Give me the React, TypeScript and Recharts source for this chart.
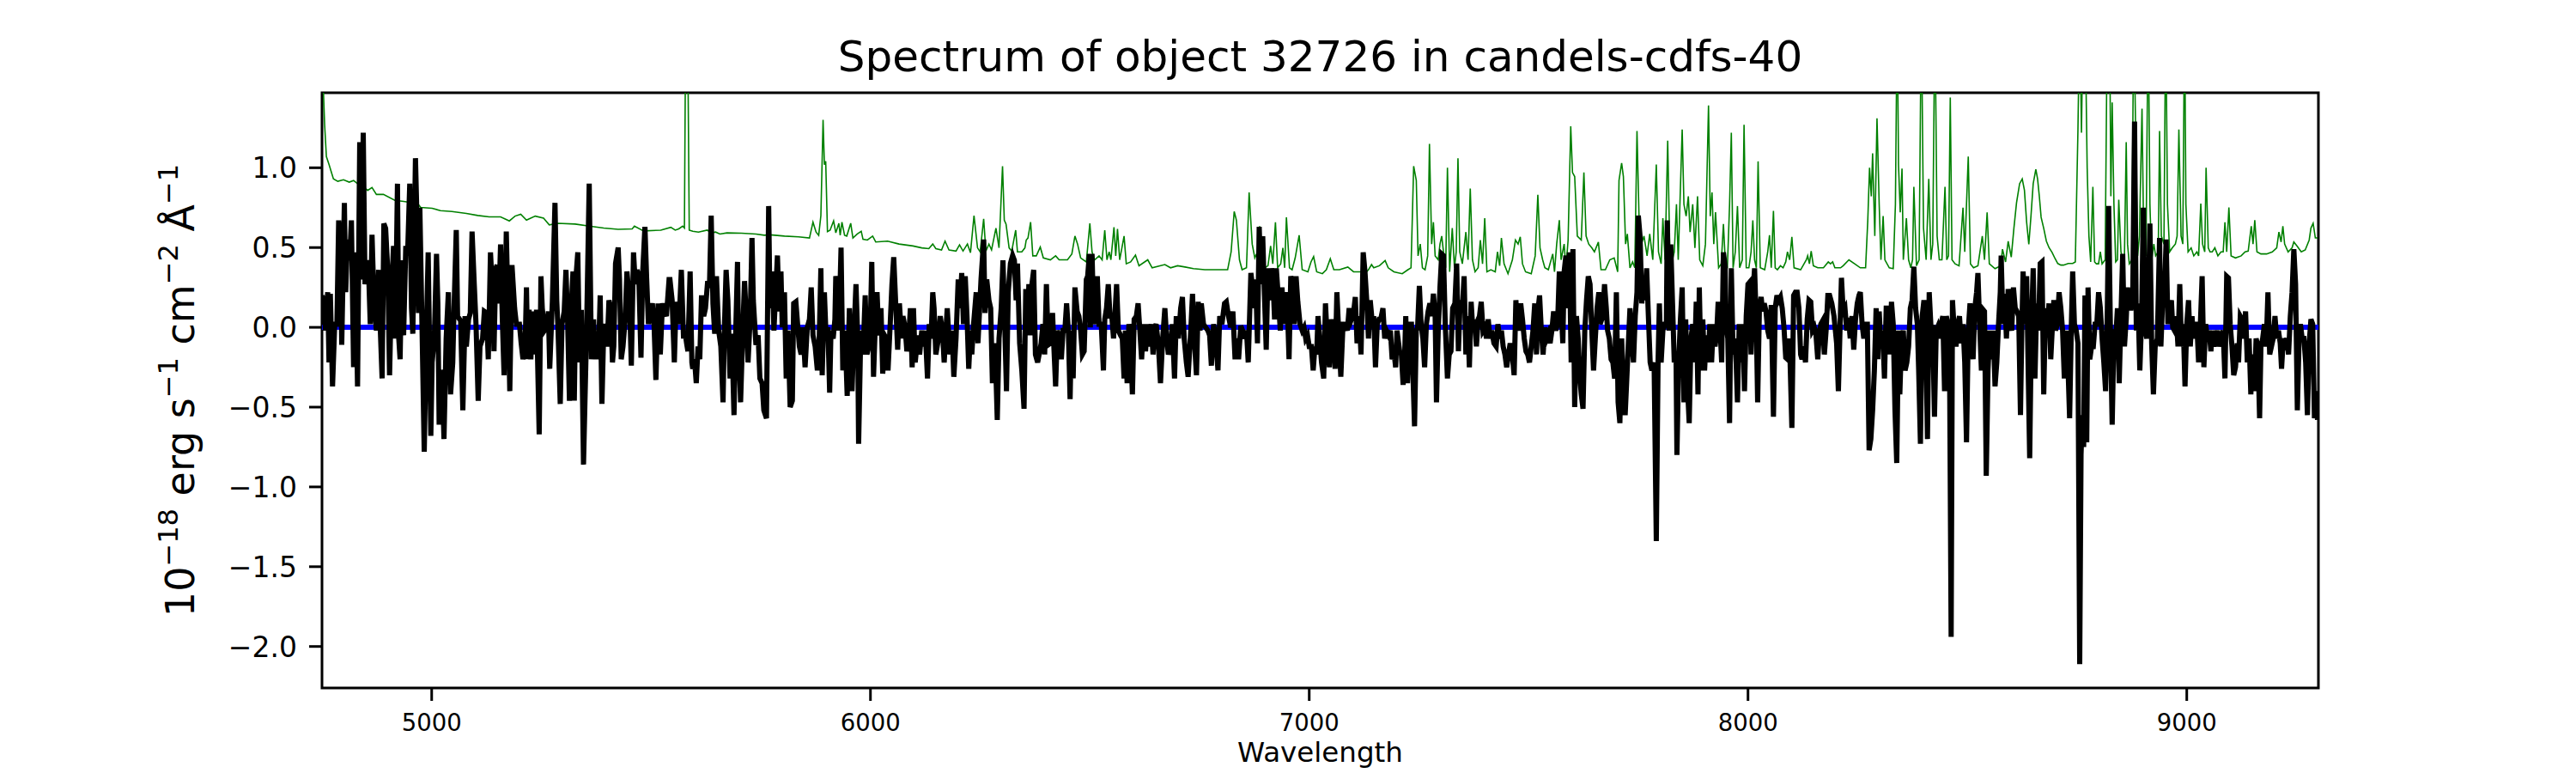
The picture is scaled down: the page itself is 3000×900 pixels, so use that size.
import React from 'react';
import { LineChart, Line, XAxis, YAxis, ReferenceArea } from 'recharts';

// Observed flux (black), wavelength in Angstrom, flux in 1e-18 erg/s/cm2/A
const FLUX: [number, number][] = [
[4750,0.20],[4753,0.17],[4758,-0.02],[4763,0.22],[4766,-0.22],[4769,0.21],[4774,-0.37],[4779,0.02],[4784,0.02],[4788,0.67],[4792,0.52],[4795,-0.11],[4801,0.78],[4804,0.22],[4808,0.55],[4813,0.42],[4817,0.67],[4822,-0.25],[4826,0.47],[4831,-0.37],[4836,1.16],[4840,0.30],[4844,1.22],[4848,0.27],[4852,0.42],[4856,0.37],[4860,0.02],[4864,0.58],[4869,0.12],[4874,-0.02],[4879,0.36],[4883,-0.02],[4887,-0.32],[4891,0.65],[4895,0.62],[4900,0.35],[4904,-0.30],[4908,0.20],[4913,0.51],[4917,-0.07],[4922,0.90],[4925,-0.07],[4928,-0.20],[4932,0.42],[4936,-0.05],[4941,0.51],[4945,0.45],[4950,0.90],[4954,0.12],[4957,-0.04],[4963,1.06],[4967,0.62],[4970,0.09],[4973,0.75],[4978,0.00],[4983,-0.78],[4988,-0.02],[4992,0.47],[4998,-0.68],[5001,-0.22],[5006,-0.07],[5011,0.46],[5014,0.15],[5017,-0.61],[5020,-0.27],[5024,-0.30],[5028,-0.70],[5031,-0.32],[5033,-0.07],[5038,0.22],[5043,-0.42],[5048,-0.22],[5051,0.12],[5056,0.61],[5059,0.07],[5066,0.04],[5071,-0.52],[5076,0.07],[5079,-0.12],[5084,0.05],[5088,0.09],[5092,0.60],[5097,0.27],[5101,0.02],[5106,-0.46],[5110,-0.12],[5116,-0.07],[5120,0.10],[5125,0.09],[5129,-0.20],[5134,0.47],[5139,0.20],[5142,-0.15],[5146,0.37],[5149,0.39],[5153,0.15],[5157,0.52],[5161,0.05],[5165,-0.30],[5170,0.60],[5176,-0.12],[5178,-0.40],[5183,0.39],[5189,0.12],[5193,0.02],[5200,0.02],[5204,-0.10],[5208,-0.20],[5213,-0.12],[5216,0.25],[5219,-0.20],[5222,0.11],[5226,-0.20],[5230,0.10],[5234,-0.17],[5239,0.11],[5245,-0.67],[5249,0.32],[5252,0.12],[5257,-0.02],[5262,0.00],[5266,0.10],[5269,-0.26],[5275,0.16],[5281,0.78],[5285,0.17],[5288,-0.02],[5293,-0.48],[5297,0.02],[5302,0.10],[5306,0.36],[5310,0.02],[5314,-0.46],[5318,0.12],[5322,0.35],[5325,-0.46],[5329,0.32],[5333,0.47],[5337,-0.22],[5341,0.11],[5346,-0.86],[5353,-0.02],[5359,0.90],[5364,-0.20],[5369,0.05],[5372,-0.20],[5376,-0.10],[5380,-0.20],[5384,0.20],[5388,-0.48],[5392,-0.02],[5396,0.02],[5400,-0.12],[5404,0.17],[5408,0.12],[5412,-0.22],[5415,-0.12],[5419,0.40],[5425,0.50],[5428,0.30],[5432,-0.20],[5436,-0.12],[5441,0.05],[5445,0.35],[5451,0.16],[5455,-0.24],[5460,0.47],[5464,0.27],[5468,0.36],[5472,0.32],[5477,-0.19],[5481,0.35],[5486,0.63],[5490,0.30],[5494,0.02],[5498,0.10],[5503,0.15],[5507,0.00],[5511,-0.33],[5516,0.15],[5521,-0.17],[5526,0.15],[5530,0.10],[5535,0.07],[5541,0.30],
[5543,0.30],[5548,0.17],[5553,-0.22],[5557,0.16],[5561,0.02],[5566,0.17],[5569,0.36],[5574,-0.07],[5577,-0.02],[5581,-0.10],[5584,-0.15],[5589,0.35],[5593,-0.22],[5595,-0.26],[5599,-0.20],[5603,-0.35],[5607,-0.12],[5611,-0.20],[5615,0.20],[5620,0.07],[5624,0.12],[5629,0.29],[5633,0.25],[5637,0.70],[5641,0.15],[5645,-0.04],[5649,0.32],[5654,-0.02],[5659,-0.12],[5664,-0.47],[5667,-0.02],[5671,0.36],[5675,0.17],[5680,-0.32],[5684,-0.04],[5689,-0.55],[5693,-0.02],[5697,0.41],[5699,-0.02],[5704,-0.47],[5709,-0.02],[5713,0.29],[5716,0.12],[5721,-0.22],[5726,0.07],[5730,0.56],[5733,0.17],[5739,-0.11],[5744,-0.05],[5748,-0.32],[5753,-0.35],[5757,-0.52],[5763,-0.57],[5768,0.76],[5771,0.12],[5776,0.35],[5780,-0.02],[5783,0.16],[5788,0.45],[5792,0.10],[5796,0.35],[5799,0.00],[5804,0.22],[5808,-0.32],[5812,-0.02],[5817,-0.50],[5822,-0.46],[5825,0.15],[5830,0.16],[5834,0.02],[5838,-0.12],[5842,-0.17],[5846,0.00],[5851,-0.25],[5856,0.00],[5861,0.05],[5865,0.25],[5869,-0.05],[5874,-0.12],[5879,-0.27],[5883,-0.10],[5887,0.37],[5890,-0.30],[5895,0.22],[5899,-0.07],[5903,0.00],[5907,-0.41],[5910,-0.02],[5915,-0.07],[5919,0.05],[5921,0.32],[5925,0.27],[5928,-0.02],[5933,0.50],[5937,-0.27],[5942,-0.02],[5947,-0.43],[5952,0.12],[5958,-0.40],[5962,-0.07],[5967,0.27],[5971,-0.07],[5973,-0.73],[5978,-0.02],[5983,-0.17],[5988,0.20],[5992,-0.17],[5996,-0.12],[5999,-0.07],[6003,0.41],[6007,-0.31],[6011,0.02],[6015,0.22],[6019,-0.05],[6024,0.12],[6028,-0.29],[6032,-0.05],[6036,-0.07],[6040,-0.27],[6045,0.02],[6049,0.27],[6053,0.44],[6058,0.12],[6062,-0.14],[6066,0.15],[6071,-0.07],[6074,0.07],[6079,0.00],[6083,-0.15],[6087,-0.07],[6091,0.12],[6095,-0.25],[6098,0.12],[6102,-0.22],[6108,-0.05],[6112,-0.17],[6117,-0.02],[6121,-0.12],[6125,-0.02],[6130,-0.32],[6134,0.02],[6138,-0.07],[6142,0.22],[6145,0.12],[6149,-0.17],[6155,-0.07],[6159,0.07],[6164,-0.02],[6168,-0.22],[6172,-0.02],[6175,0.12],[6181,-0.17],[6186,-0.02],[6190,-0.31],[6195,-0.07],[6200,0.30],[6204,0.12],[6208,0.34],[6212,0.02],[6216,0.32],[6220,0.07],[6224,-0.26],[6228,-0.02],[6231,-0.17],[6235,0.02],[6241,0.22],[6245,-0.10],[6248,0.07],[6252,0.30],[6258,0.55],[6261,0.09],[6265,0.30],[6270,0.17],[6274,0.12],[6278,-0.35],[6284,-0.10],[6289,-0.58],[6293,-0.07],[6298,0.12],[6302,0.42],[6306,0.02],[6310,-0.40],[6314,0.22],[6319,0.40],[6324,0.45],[6328,0.42],[6332,0.17],[6335,0.40],[6340,-0.10],
[6345,-0.27],[6350,-0.51],[6354,0.24],[6358,-0.05],[6361,0.27],[6365,-0.05],[6368,0.27],[6372,0.36],[6376,-0.17],[6381,-0.22],[6385,-0.16],[6389,-0.10],[6393,0.02],[6397,-0.17],[6401,0.27],[6405,-0.11],[6410,-0.10],[6415,0.09],[6418,-0.12],[6422,-0.37],[6426,-0.02],[6431,-0.07],[6435,-0.20],[6439,-0.02],[6443,-0.02],[6447,0.15],[6451,-0.02],[6455,-0.45],[6458,-0.02],[6462,-0.32],[6466,0.25],[6471,0.10],[6475,0.07],[6479,-0.02],[6483,-0.17],[6487,-0.15],[6492,0.30],[6495,0.32],[6499,0.46],[6501,0.00],[6505,0.46],[6509,0.02],[6513,0.16],[6517,0.32],[6521,0.02],[6526,0.02],[6531,-0.27],[6534,0.05],[6538,0.12],[6542,0.27],[6546,0.07],[6550,0.07],[6554,-0.07],[6558,0.12],[6561,0.27],[6565,-0.02],[6570,-0.05],[6574,-0.07],[6578,-0.32],[6581,-0.02],[6585,-0.35],[6589,0.02],[6593,-0.10],[6597,-0.42],[6601,0.05],[6606,0.07],[6610,0.15],[6614,-0.02],[6618,-0.20],[6622,0.02],[6627,-0.15],[6631,0.02],[6635,-0.12],[6640,0.02],[6644,-0.17],[6648,0.00],[6651,0.02],[6656,-0.10],[6661,-0.35],[6666,-0.07],[6671,0.12],[6675,-0.07],[6679,-0.17],[6684,-0.12],[6688,0.02],[6693,-0.32],[6697,0.07],[6702,-0.07],[6707,0.12],[6711,0.19],[6715,-0.07],[6720,-0.22],[6724,-0.31],[6730,-0.02],[6734,0.21],[6737,-0.02],[6743,-0.30],[6747,0.16],[6751,-0.02],[6754,0.15],[6759,0.02],[6764,0.00],[6769,-0.02],[6773,-0.05],[6777,-0.24],[6782,0.02],[6787,-0.07],[6792,-0.27],[6796,0.07],[6801,0.02],[6807,0.15],[6811,0.16],[6816,0.07],[6821,0.00],[6826,0.10],[6831,-0.20],[6835,-0.07],[6839,-0.20],[6844,0.01],[6848,-0.02],[6852,-0.07],[6857,-0.02],[6861,-0.22],[6867,0.34],[6871,0.25],[6874,0.12],[6878,0.30],[6882,-0.10],[6886,0.63],[6890,0.27],[6894,0.57],[6898,0.20],[6902,-0.14],[6906,0.37],[6910,0.17],[6914,0.37],[6917,0.32],[6921,0.05],[6925,0.37],[6930,0.17],[6934,-0.02],[6938,0.25],[6942,0.02],[6946,0.22],[6950,0.15],[6954,-0.20],[6958,0.32],[6962,0.27],[6966,0.02],[6970,0.32],[6974,0.16],[6979,0.02],[6984,-0.02],[6988,0.00],[6992,-0.07],[6996,-0.05],[7000,-0.12],[7005,-0.12],[7009,-0.27],[7013,-0.12],[7017,-0.17],[7020,0.07],[7024,-0.07],[7028,-0.22],[7033,-0.32],[7037,0.15],[7041,-0.07],[7046,-0.25],[7050,0.05],[7054,-0.02],[7059,-0.26],[7063,0.22],[7067,-0.02],[7072,-0.31],[7077,0.02],[7082,0.02],[7087,-0.02],[7091,0.12],[7096,0.05],[7101,0.09],[7105,0.19],[7109,-0.10],[7114,0.07],[7118,-0.17],[7123,0.47],[7127,0.35],[7131,0.17],[7135,-0.07],[7139,0.17],[7144,0.02],
[7147,0.07],[7151,-0.25],[7155,0.02],[7159,0.05],[7163,0.05],[7168,0.12],[7172,-0.07],[7176,-0.02],[7181,-0.05],[7185,-0.02],[7189,-0.20],[7193,-0.15],[7197,-0.25],[7200,-0.02],[7206,-0.15],[7210,-0.17],[7214,-0.36],[7217,-0.22],[7220,0.07],[7224,-0.35],[7228,0.02],[7233,0.02],[7240,-0.62],[7244,-0.02],[7247,0.00],[7251,0.26],[7255,0.02],[7259,-0.07],[7263,-0.25],[7267,0.02],[7271,0.10],[7275,0.15],[7279,0.07],[7283,0.21],[7287,0.07],[7290,-0.47],[7294,-0.02],[7298,0.25],[7302,0.46],[7306,0.45],[7310,0.02],[7315,-0.32],[7319,-0.17],[7323,-0.15],[7327,0.12],[7332,0.15],[7336,0.40],[7340,-0.15],[7344,0.17],[7349,0.12],[7353,0.32],[7357,-0.17],[7361,0.07],[7365,-0.25],[7369,0.16],[7373,-0.02],[7377,0.05],[7381,-0.12],[7385,0.05],[7388,0.07],[7392,0.16],[7396,-0.02],[7400,0.00],[7404,-0.07],[7408,0.05],[7412,-0.07],[7416,-0.02],[7421,-0.10],[7426,-0.12],[7430,0.02],[7434,-0.07],[7438,-0.02],[7442,-0.12],[7446,-0.17],[7450,-0.25],[7454,-0.17],[7458,-0.10],[7462,-0.15],[7467,-0.30],[7471,0.17],[7474,0.02],[7478,-0.02],[7482,0.15],[7486,0.05],[7490,-0.07],[7494,-0.15],[7498,-0.17],[7502,-0.22],[7506,-0.12],[7510,-0.02],[7514,0.15],[7518,-0.17],[7521,0.10],[7525,0.20],[7529,-0.02],[7533,-0.17],[7537,0.00],[7541,-0.07],[7545,-0.04],[7549,-0.10],[7553,-0.02],[7557,0.10],[7562,-0.02],[7566,0.02],[7570,0.35],[7574,0.12],[7578,-0.10],[7581,0.35],[7585,0.45],[7589,0.12],[7593,0.47],[7597,-0.22],[7601,0.49],[7605,-0.50],[7609,0.07],[7613,-0.07],[7617,-0.32],[7620,-0.42],[7624,-0.51],[7628,-0.02],[7632,0.17],[7636,0.32],[7640,0.27],[7644,-0.02],[7648,-0.27],[7652,-0.07],[7656,0.12],[7660,0.22],[7663,0.02],[7669,0.07],[7673,0.27],[7677,0.12],[7680,-0.02],[7684,-0.07],[7688,-0.20],[7692,-0.22],[7696,-0.32],[7700,0.22],[7704,-0.47],[7708,-0.60],[7712,-0.07],[7716,-0.37],[7720,-0.55],[7723,-0.37],[7727,-0.12],[7731,0.12],[7735,-0.07],[7739,-0.22],[7743,0.07],[7747,0.22],[7750,0.70],[7754,0.57],[7758,0.15],[7761,0.32],[7765,0.17],[7769,0.37],[7773,0.07],[7777,-0.22],[7781,-0.27],[7786,-0.22],[7791,-1.34],[7795,-0.22],[7798,0.15],[7802,-0.22],[7806,-0.02],[7810,0.02],[7814,0.02],[7816,0.67],[7820,-0.02],[7824,0.52],[7828,0.15],[7832,-0.22],[7836,-0.17],[7838,-0.80],[7842,-0.22],[7846,0.05],[7850,0.25],[7854,-0.47],[7858,0.05],[7862,-0.37],[7866,-0.60],[7870,-0.07],[7874,0.02],[7878,-0.22],[7882,0.16],[7886,-0.42],[7889,0.25],[7893,-0.27],[7897,0.05],[7901,-0.27],[7905,-0.05],[7909,-0.22],[7913,0.02],[7917,-0.22],[7921,0.02],[7925,-0.12],[7929,-0.02],[7932,0.16],[7936,0.02],[7940,-0.22],[7944,0.47],[7948,0.38],
[7950,0.02],[7954,-0.07],[7958,-0.60],[7962,0.37],[7966,-0.17],[7970,-0.07],[7973,-0.22],[7976,-0.47],[7980,0.02],[7984,-0.22],[7988,0.02],[7992,-0.40],[7996,0.07],[8000,0.27],[8003,0.28],[8007,-0.17],[8011,0.20],[8015,0.37],[8019,0.02],[8022,-0.47],[8026,0.12],[8030,0.19],[8033,0.10],[8037,0.15],[8041,0.10],[8045,-0.02],[8049,-0.07],[8053,0.14],[8058,-0.56],[8062,0.12],[8066,0.20],[8070,0.17],[8074,0.19],[8078,0.12],[8082,0.00],[8086,-0.19],[8090,-0.20],[8093,-0.07],[8096,-0.22],[8100,-0.63],[8104,0.20],[8108,0.22],[8112,0.22],[8116,0.12],[8120,-0.17],[8123,-0.20],[8127,-0.12],[8131,-0.22],[8135,0.05],[8139,0.17],[8143,0.16],[8147,-0.02],[8151,0.00],[8155,-0.05],[8159,-0.20],[8163,-0.02],[8166,0.02],[8170,0.04],[8174,-0.17],[8178,-0.02],[8182,0.20],[8186,0.20],[8191,0.15],[8196,0.07],[8202,-0.10],[8206,-0.40],[8210,0.02],[8213,0.31],[8217,0.10],[8221,0.12],[8225,-0.02],[8229,0.06],[8233,-0.07],[8237,0.07],[8241,-0.14],[8245,0.05],[8249,0.15],[8253,0.20],[8256,0.22],[8260,0.02],[8264,-0.07],[8268,0.02],[8272,0.02],[8276,-0.77],[8280,-0.70],[8284,-0.52],[8288,-0.27],[8292,0.12],[8296,-0.20],[8299,0.10],[8303,-0.12],[8307,-0.02],[8311,-0.32],[8315,0.12],[8319,0.12],[8323,-0.17],[8327,0.16],[8331,0.02],[8335,-0.52],[8339,-0.85],[8343,-0.02],[8346,-0.42],[8350,-0.07],[8354,-0.02],[8358,-0.27],[8362,-0.22],[8366,-0.12],[8370,0.12],[8374,0.17],[8378,0.38],[8382,0.12],[8386,0.02],[8389,-0.27],[8393,-0.73],[8397,0.07],[8401,0.17],[8405,-0.02],[8409,-0.70],[8413,0.22],[8417,0.00],[8421,0.00],[8425,-0.56],[8429,-0.02],[8432,0.00],[8436,-0.07],[8440,0.02],[8444,0.07],[8448,-0.40],[8452,0.07],[8456,0.02],[8459,-0.02],[8463,-1.94],[8466,0.17],[8470,-0.02],[8474,-0.12],[8478,0.02],[8482,0.07],[8486,-0.10],[8490,0.02],[8494,-0.22],[8498,-0.72],[8502,-0.02],[8506,0.15],[8509,0.02],[8513,-0.20],[8517,0.12],[8521,0.22],[8524,0.34],[8528,0.02],[8532,-0.27],[8536,0.11],[8539,0.10],[8543,-0.93],[8547,-0.27],[8551,-0.02],[8555,-0.20],[8559,-0.02],[8563,-0.37],[8567,-0.22],[8571,0.02],[8575,0.22],[8577,0.45],[8581,0.02],[8585,0.21],[8589,-0.07],[8593,0.24],[8597,0.02],[8601,-0.02],[8605,0.25],[8609,0.12],[8613,0.10],[8617,0.07],[8621,-0.55],[8624,-0.02],[8627,0.35],[8631,0.02],[8635,0.32],[8638,-0.17],[8642,-0.82],[8646,0.02],[8650,0.37],[8654,-0.32],[8658,0.15],[8662,-0.02],[8666,0.40],[8670,0.41],[8674,-0.42],[8678,0.12],[8682,-0.02],[8686,0.15],[8690,-0.20],[8694,0.02],[8697,0.17],[8701,-0.02],[8705,0.02],[8709,0.22],[8713,0.12],[8717,-0.02],[8721,-0.32],[8725,-0.02],[8729,-0.22],[8733,-0.57],[8737,0.02],[8740,0.35],[8744,0.02],[8748,-0.02],[8752,-0.10],[8756,-2.11],
[8759,-0.80],[8762,-0.55],[8765,-0.75],[8768,0.20],[8772,-0.72],[8775,0.25],[8779,-0.20],[8783,-0.12],[8787,-0.12],[8791,0.02],[8795,0.02],[8799,0.22],[8803,0.12],[8807,-0.07],[8811,-0.22],[8815,-0.40],[8819,0.12],[8822,0.76],[8826,-0.02],[8830,-0.61],[8834,-0.05],[8838,-0.07],[8842,0.12],[8846,-0.35],[8850,0.07],[8854,0.46],[8858,-0.12],[8862,0.05],[8865,0.25],[8869,0.12],[8873,0.12],[8877,0.22],[8881,1.29],[8885,-0.02],[8889,0.15],[8893,-0.27],[8897,0.05],[8901,0.75],[8905,-0.02],[8909,-0.07],[8912,0.12],[8916,0.65],[8920,-0.10],[8924,-0.42],[8928,-0.12],[8933,-0.07],[8938,0.56],[8941,-0.12],[8945,0.17],[8949,0.20],[8953,0.55],[8957,0.02],[8961,0.12],[8965,0.17],[8968,0.00],[8972,-0.02],[8976,0.07],[8980,-0.12],[8984,0.27],[8988,-0.12],[8992,0.02],[8996,-0.37],[9000,0.02],[9004,0.17],[9008,-0.12],[9012,0.07],[9015,-0.07],[9019,0.02],[9023,0.02],[9027,-0.22],[9031,0.02],[9035,0.32],[9039,-0.25],[9043,0.02],[9047,-0.07],[9051,-0.02],[9055,-0.15],[9058,-0.02],[9062,-0.12],[9066,-0.07],[9070,-0.02],[9074,-0.12],[9078,-0.07],[9083,-0.02],[9087,-0.32],[9091,0.32],[9095,0.31],[9099,0.02],[9103,-0.12],[9107,-0.30],[9111,-0.25],[9115,-0.10],[9118,-0.22],[9122,0.07],[9126,0.05],[9130,-0.07],[9134,0.10],[9138,-0.22],[9142,-0.07],[9146,-0.42],[9150,-0.17],[9154,-0.40],[9158,-0.07],[9162,-0.12],[9166,-0.57],[9169,-0.12],[9173,-0.07],[9177,0.02],[9181,-0.12],[9185,0.22],[9189,-0.17],[9193,-0.12],[9197,-0.07],[9201,0.07],[9205,-0.07],[9209,-0.02],[9213,-0.10],[9216,-0.26],[9220,-0.07],[9224,-0.10],[9228,-0.07],[9232,-0.17],[9236,0.07],[9240,0.22],[9244,0.49],[9248,0.27],[9252,-0.52],[9256,-0.07],[9259,0.02],[9263,-0.07],[9267,-0.07],[9271,-0.22],[9275,-0.55],[9279,-0.10],[9283,0.05],[9287,0.02],[9291,-0.57],[9294,-0.40],[9298,-0.58]
];

// Noise / sky spectrum (green)
const NOISE: [number, number][] = [
[4750,2.0],[4753,1.5],[4756,1.27],[4760,1.07],[4766,1.02],[4776,0.93],[4786,0.915],[4799,0.925],[4812,0.91],[4822,0.92],[4831,0.90],[4844,0.883],[4854,0.858],[4864,0.876],[4874,0.833],[4890,0.833],[4916,0.796],[4936,0.789],[4968,0.776],[4975,0.751],[5001,0.746],[5020,0.731],[5046,0.726],[5079,0.714],[5105,0.701],[5131,0.692],[5157,0.692],[5177,0.667],[5190,0.697],[5203,0.709],[5216,0.672],[5236,0.697],[5255,0.684],[5268,0.642],[5288,0.652],[5327,0.647],[5359,0.634],[5392,0.622],[5425,0.614],[5457,0.617],[5462,0.634],[5483,0.604],[5522,0.609],[5545,0.627],[5555,0.609],
[5563,0.617],[5572,0.634],[5576,0.622],[5579,2.0],[5583,2.0],[5587,0.609],[5595,0.602],[5608,0.597],[5628,0.609],[5638,0.592],[5647,0.597],[5657,0.585],[5673,0.592],[5706,0.590],[5739,0.585],[5758,0.577],[5771,0.580],[5804,0.572],[5836,0.567],[5861,0.560],[5869,0.659],[5876,0.597],[5882,0.577],[5887,0.70],[5892,1.30],[5895,1.02],[5898,1.04],[5902,0.60],[5908,0.609],[5916,0.667],[5921,0.592],[5928,0.652],[5931,0.577],[5935,0.659],[5941,0.577],[5946,0.572],[5955,0.652],[5960,0.560],[5970,0.585],[5979,0.602],[5983,0.552],[5993,0.547],[6005,0.572],[6012,0.535],[6039,0.540],[6065,0.522],[6097,0.510],[6117,0.498],[6133,0.493],[6142,0.522],[6149,0.493],[6162,0.485],[6170,0.540],[6179,0.485],[6195,0.478],[6203,0.517],[6211,0.478],[6221,0.522],[6228,0.468],[6236,0.70],[6244,0.498],[6250,0.473],[6258,0.68],[6263,0.478],[6270,0.522],[6276,0.485],[6286,0.622],[6293,0.498],[6301,1.01],[6305,0.672],[6309,0.647],[6316,0.498],[6322,0.478],[6331,0.609],[6335,0.473],
[6345,0.473],[6352,0.498],[6355,0.547],[6359,0.560],[6365,0.659],[6370,0.448],[6378,0.448],[6387,0.503],[6394,0.435],[6410,0.423],[6422,0.448],[6430,0.423],[6449,0.423],[6459,0.460],[6466,0.572],[6472,0.522],[6479,0.435],[6492,0.410],[6500,0.652],[6505,0.473],[6511,0.423],[6521,0.448],[6528,0.423],[6534,0.609],[6539,0.423],[6544,0.473],[6548,0.423],[6555,0.627],[6559,0.448],[6563,0.617],[6568,0.423],[6578,0.572],[6583,0.398],[6593,0.410],[6604,0.453],[6612,0.386],[6632,0.423],[6642,0.373],[6671,0.393],[6684,0.373],[6700,0.386],[6717,0.378],[6736,0.368],[6762,0.361],[6788,0.361],[6814,0.361],[6822,0.473],[6829,0.726],[6834,0.672],[6841,0.423],[6847,0.361],[6857,0.373],[6863,0.846],[6870,0.522],[6876,0.435],[6882,0.473],[6887,0.634],[6893,0.386],[6899,0.373],[6906,0.386],[6912,0.510],[6917,0.398],[6923,0.659],[6928,0.373],[6935,0.398],[6940,0.498],[6944,0.373],[6948,0.689],[6955,0.373],[6961,0.361],[6968,0.435],[6977,0.577],[6984,0.361],[6997,0.348],[7004,0.410],[7010,0.443],[7017,0.348],[7030,0.336],[7039,0.361],[7048,0.430],[7056,0.361],[7069,0.361],[7088,0.378],[7101,0.348],[7121,0.348],[7127,0.336],[7135,0.361],[7142,0.393],
[7147,0.373],[7160,0.386],[7173,0.418],[7180,0.373],[7193,0.348],[7212,0.336],[7225,0.361],[7232,0.373],[7238,1.01],[7244,0.92],[7248,0.448],[7253,0.522],[7258,0.373],[7264,0.361],[7270,0.448],[7274,1.15],[7279,0.522],[7283,0.659],[7287,0.448],[7294,0.423],[7298,0.522],[7302,0.572],[7307,0.448],[7311,0.373],[7315,1.00],[7320,0.348],[7326,0.622],[7331,0.373],[7335,0.473],[7339,1.06],[7343,0.473],[7349,0.398],[7357,0.597],[7362,0.423],[7367,0.87],[7372,0.423],[7378,0.348],[7385,0.373],[7390,0.547],[7395,0.398],[7400,0.684],[7405,0.348],[7414,0.361],[7424,0.348],[7429,0.473],[7434,0.386],[7438,0.560],[7444,0.398],[7453,0.336],[7463,0.423],[7470,0.547],[7476,0.522],[7481,0.567],[7486,0.398],[7493,0.348],[7506,0.336],[7515,0.448],[7521,0.83],[7526,0.498],[7532,0.423],[7537,0.373],[7545,0.361],[7555,0.460],[7559,0.348],[7564,0.522],[7570,0.672],[7574,0.423],[7581,0.522],[7585,0.373],[7590,0.547],[7596,1.26],[7600,0.97],[7605,0.945],[7611,0.572],[7620,0.547],[7626,0.97],[7631,0.572],[7637,0.522],[7644,0.498],[7650,0.473],[7659,0.535],[7665,0.361],[7675,0.361],[7685,0.423],[7695,0.435],[7703,0.348],[7706,0.92],[7712,1.03],[7716,0.945],[7721,0.522],[7725,0.585],[7731,0.373],[7737,0.410],[7742,0.373],[7747,1.23],[7752,0.647],[7757,0.522],[7763,0.572],[7770,0.448],[7776,0.585],[7783,0.423],[7791,1.02],[7796,0.473],[7802,0.398],[7806,0.684],[7811,0.423],[7817,1.17],[7822,0.448],[7826,0.398],[7832,0.473],[7837,0.771],[7841,0.423],[7850,1.24],[7854,0.771],[7859,0.697],[7864,0.821],[7868,0.597],[7874,0.771],[7879,0.498],[7885,0.821],[7890,0.423],[7897,0.386],[7903,0.522],[7910,1.39],[7914,0.697],[7918,0.846],[7922,0.522],[7926,0.721],[7933,0.373],[7939,0.398],[7944,0.647],[7949,0.373],
[7953,0.373],[7958,0.77],[7962,1.22],[7966,0.373],[7971,0.473],[7976,0.76],[7981,0.373],[7987,0.423],[7991,1.27],[7996,0.373],[8002,0.373],[8007,0.473],[8011,0.67],[8015,0.423],[8019,0.373],[8023,1.04],[8028,0.373],[8038,0.361],[8045,0.473],[8049,0.577],[8053,0.373],[8058,0.73],[8062,0.373],[8067,0.361],[8074,0.386],[8080,0.373],[8086,0.410],[8090,0.473],[8095,0.423],[8100,0.567],[8105,0.373],[8120,0.361],[8133,0.423],[8136,0.448],[8140,0.398],[8144,0.478],[8149,0.386],[8159,0.373],[8172,0.373],[8183,0.410],[8188,0.398],[8193,0.410],[8198,0.373],[8211,0.373],[8217,0.386],[8230,0.423],[8243,0.398],[8256,0.373],[8268,0.373],[8273,0.67],[8277,1.00],[8281,0.821],[8284,1.09],[8289,0.572],[8294,1.31],[8299,0.771],[8303,0.423],[8308,0.697],[8312,0.423],[8322,0.373],[8331,0.368],[8336,0.771],[8340,2.0],[8343,1.02],[8347,0.721],[8351,0.995],[8354,0.423],[8361,0.684],[8366,0.423],[8371,0.373],[8375,0.423],[8378,0.88],[8384,0.386],[8390,0.423],[8395,2.0],[8400,0.622],[8406,0.423],[8412,0.93],[8417,0.423],[8421,0.522],[8426,2.0],[8431,0.572],[8436,0.423],[8442,0.423],[8449,0.88],[8453,0.423],[8457,0.448],[8461,1.44],[8465,0.423],[8472,0.398],[8481,0.386],[8490,0.75],[8494,0.473],[8502,1.07],[8507,0.398],[8514,0.373],[8524,0.386],[8534,0.572],[8539,0.423],[8545,0.72],[8550,0.398],[8563,0.368],[8576,0.386],[8580,0.49],[8587,0.41],[8593,0.54],[8600,0.44],[8606,0.62],[8612,0.78],[8619,0.90],[8625,0.93],[8630,0.86],[8635,0.66],[8640,0.52],[8645,0.70],[8650,0.90],[8656,0.99],[8660,0.93],[8664,0.82],[8668,0.69],[8674,0.62],[8680,0.54],[8686,0.50],[8693,0.47],[8700,0.43],[8706,0.40],[8713,0.39],[8719,0.39],[8730,0.40],[8740,0.40],[8746,0.41],[8752,1.24],[8756,2.0],
[8760,1.22],[8764,2.0],[8768,2.0],[8773,1.0],[8777,0.572],[8781,0.410],[8786,0.88],[8790,0.410],[8794,0.398],[8799,0.398],[8803,0.473],[8807,0.398],[8814,0.423],[8819,2.0],[8824,2.0],[8827,0.821],[8830,1.41],[8834,0.771],[8838,0.410],[8842,0.423],[8845,0.80],[8850,0.473],[8854,0.423],[8858,0.448],[8862,1.16],[8865,0.522],[8869,0.398],[8875,0.423],[8879,2.0],[8884,1.14],[8888,0.448],[8892,0.572],[8898,1.37],[8902,0.522],[8907,0.448],[8912,2.0],[8916,0.771],[8920,0.423],[8925,0.522],[8929,0.448],[8935,0.473],[8938,1.23],[8942,0.572],[8948,0.522],[8952,2.0],[8956,0.771],[8961,0.473],[8967,0.498],[8974,0.522],[8978,0.572],[8982,1.24],[8987,0.572],[8991,0.522],[8995,2.0],[8998,0.771],[9003,0.473],[9010,0.498],[9016,0.448],[9023,0.473],[9027,0.448],[9032,0.776],[9036,0.522],[9041,0.473],[9044,1.00],[9049,0.498],[9053,0.473],[9058,0.473],[9064,0.498],[9071,0.448],[9078,0.473],[9083,0.473],[9087,0.659],[9091,0.473],[9096,0.751],[9101,0.448],[9111,0.435],[9124,0.448],[9133,0.473],[9140,0.478],[9147,0.634],[9151,0.522],[9155,0.672],[9160,0.473],[9169,0.460],[9182,0.460],[9195,0.473],[9205,0.498],[9210,0.597],[9215,0.535],[9219,0.634],[9223,0.522],[9231,0.473],[9240,0.498],[9244,0.535],[9251,0.510],[9261,0.473],[9270,0.485],[9279,0.547],[9283,0.622],[9288,0.652],[9293,0.560],[9298,0.560]
];

// Model (blue), flat at zero
const MODEL: [number, number][] = [[4750, 0], [9300, 0]];

const X_DOMAIN: [number, number] = [4750, 9300];
const Y_DOMAIN: [number, number] = [-2.26, 1.47];
const X_TICKS = [5000, 6000, 7000, 8000, 9000];
const Y_TICKS = [-2.0, -1.5, -1.0, -0.5, 0.0, 0.5, 1.0];

const TITLE = 'Spectrum of object 32726 in candels-cdfs-40';
const X_LABEL = 'Wavelength';

const toRows = (pairs: [number, number][]) => pairs.map(([w, f]) => ({ w, f }));
const fluxData = toRows(FLUX);
const noiseData = toRows(NOISE);
const modelData = toRows(MODEL);

const FONT = '"DejaVu Sans", sans-serif';
const fmtY = (v: number) => v.toFixed(1).replace('-', '\u2212');

const XTick = (props: any) => {
  const { x, payload } = props;
  return (
    <text x={x} y={851} textAnchor="middle" fontFamily={FONT} fontSize={27.5} fill="#000">
      {String(payload.value)}
    </text>
  );
};

const YTick = (props: any) => {
  const { y, payload } = props;
  return (
    <text x={346} y={y + 12} textAnchor="end" fontFamily={FONT} fontSize={33} fill="#000">
      {fmtY(payload.value)}
    </text>
  );
};

export default function App() {
  const supDy = -19;
  const supSize = 32;
  return (
    <div style={{ position: 'absolute', left: 0, top: 0, width: 3000, height: 900, background: '#fff' }}>
      <LineChart width={3000} height={900} margin={{ top: 108, right: 300, bottom: 0, left: 0 }}>
        <XAxis
          type="number"
          dataKey="w"
          domain={X_DOMAIN}
          allowDataOverflow
          ticks={X_TICKS}
          tickSize={15}
          tickLine={{ stroke: '#000', strokeWidth: 3 }}
          axisLine={false}
          height={99}
          tick={<XTick />}
          interval={0}
        />
        <YAxis
          type="number"
          dataKey="f"
          domain={Y_DOMAIN}
          allowDataOverflow
          ticks={Y_TICKS}
          tickSize={15}
          tickLine={{ stroke: '#000', strokeWidth: 3 }}
          axisLine={false}
          width={375}
          tick={<YTick />}
          interval={0}
        />
        <Line data={noiseData} dataKey="f" type="linear" stroke="#008000" strokeWidth={1.6} dot={false} isAnimationActive={false} />
        <Line data={modelData} dataKey="f" type="linear" stroke="#0000ff" strokeWidth={6} dot={false} isAnimationActive={false} />
        <Line data={fluxData} dataKey="f" type="linear" stroke="#000000" strokeWidth={6} strokeLinejoin="miter" dot={false} isAnimationActive={false} />
        <ReferenceArea x1={X_DOMAIN[0]} x2={X_DOMAIN[1]} y1={Y_DOMAIN[0]} y2={Y_DOMAIN[1]} fill="none" fillOpacity={0} stroke="#000" strokeWidth={3} ifOverflow="visible" />
      </LineChart>
      <svg width={3000} height={900} style={{ position: 'absolute', left: 0, top: 0, pointerEvents: 'none' }}>
        <text x={1537.5} y={83} textAnchor="middle" fontFamily={FONT} fontSize={50} fill="#000">{TITLE}</text>
        <text x={1537.5} y={887} textAnchor="middle" fontFamily={FONT} fontSize={32.5} fill="#000">{X_LABEL}</text>
        <text transform="translate(226,454.5) rotate(-90)" textAnchor="middle" fontFamily={FONT} fontSize={46} fill="#000">
          <tspan>10</tspan>
          <tspan fontSize={supSize} dy={supDy}>{'\u221218'}</tspan>
          <tspan dy={-supDy}> erg s</tspan>
          <tspan fontSize={supSize} dy={supDy}>{'\u22121'}</tspan>
          <tspan dy={-supDy}> cm</tspan>
          <tspan fontSize={supSize} dy={supDy}>{'\u22122'}</tspan>
          <tspan dy={-supDy}> {'\u00C5'}</tspan>
          <tspan fontSize={supSize} dy={supDy}>{'\u22121'}</tspan>
        </text>
      </svg>
    </div>
  );
}
